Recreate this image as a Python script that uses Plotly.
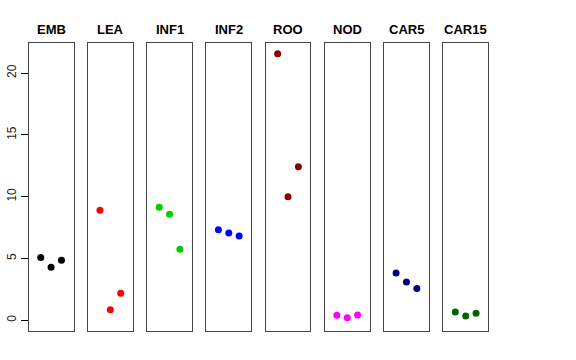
import plotly.graph_objects as go

groups = ["EMB", "LEA", "INF1", "INF2", "ROO", "NOD", "CAR5", "CAR15"]
colors = ["#000000", "#FF0000", "#00CD00", "#0000FF", "#8B0000", "#FF00FF", "#000080", "#006400"]
values = {
    "EMB": [5.07, 4.29, 4.85],
    "LEA": [8.90, 0.86, 2.18],
    "INF1": [9.14, 8.58, 5.74],
    "INF2": [7.33, 7.06, 6.82],
    "ROO": [21.57, 10.00, 12.43],
    "NOD": [0.40, 0.21, 0.43],
    "CAR5": [3.83, 3.10, 2.56],
    "CAR15": [0.67, 0.35, 0.57],
}
reps = [1, 2, 3]
yticks = [0, 5, 10, 15, 20]

W, H = 576, 360
left0, step, pw = 28.7, 59.23, 44.8
top, bottom = 43, 331

fig = go.Figure()
layout = dict(
    width=W, height=H, margin=dict(l=0, r=0, t=0, b=0, autoexpand=False),
    paper_bgcolor="white", plot_bgcolor="white", showlegend=False,
    font=dict(family="Liberation Sans, Arial, sans-serif", color="black"),
)
annotations = []
for i, g in enumerate(groups):
    n = "" if i == 0 else str(i + 1)
    x0 = (left0 + step * i) / W
    x1 = (left0 + step * i + pw) / W
    fig.add_trace(go.Scatter(
        x=reps, y=values[g], mode="markers",
        marker=dict(color=colors[i], size=7, line=dict(width=0)),
        xaxis="x" + n, yaxis="y" + n, hoverinfo="y",
    ))
    layout["xaxis" + n] = dict(
        domain=[x0, x1], range=[-0.16, 4.16], showticklabels=False, ticks="",
        showgrid=False, zeroline=False, showline=True, mirror=True,
        linecolor="#444", linewidth=1, anchor="y" + n, automargin=False,
    )
    ya = dict(
        domain=[1 - bottom / H, 1 - top / H], range=[-0.87, 22.44],
        showgrid=False, zeroline=False, showline=True, mirror=True,
        linecolor="#444", linewidth=1, anchor="x" + n, automargin=False,
    )
    if i == 0:
        ya.update(tickvals=yticks, ticktext=[str(v) for v in yticks], ticks="outside",
                  ticklen=7, tickcolor="black", tickangle=-90,
                  tickfont=dict(size=12, color="#222"))
    else:
        ya.update(showticklabels=False, ticks="")
    layout["yaxis" + n] = ya
    annotations.append(dict(
        text="<b>" + g + "</b>", x=(x0 + x1) / 2, y=1 - 29.3 / H,
        xref="paper", yref="paper", xanchor="center", yanchor="middle",
        showarrow=False, font=dict(size=13, color="black"),
    ))
layout["annotations"] = annotations
fig.update_layout(**layout)
fig.write_html("out.html", config={"displayModeBar": False},
               post_script="document.body.style.margin='0';")
